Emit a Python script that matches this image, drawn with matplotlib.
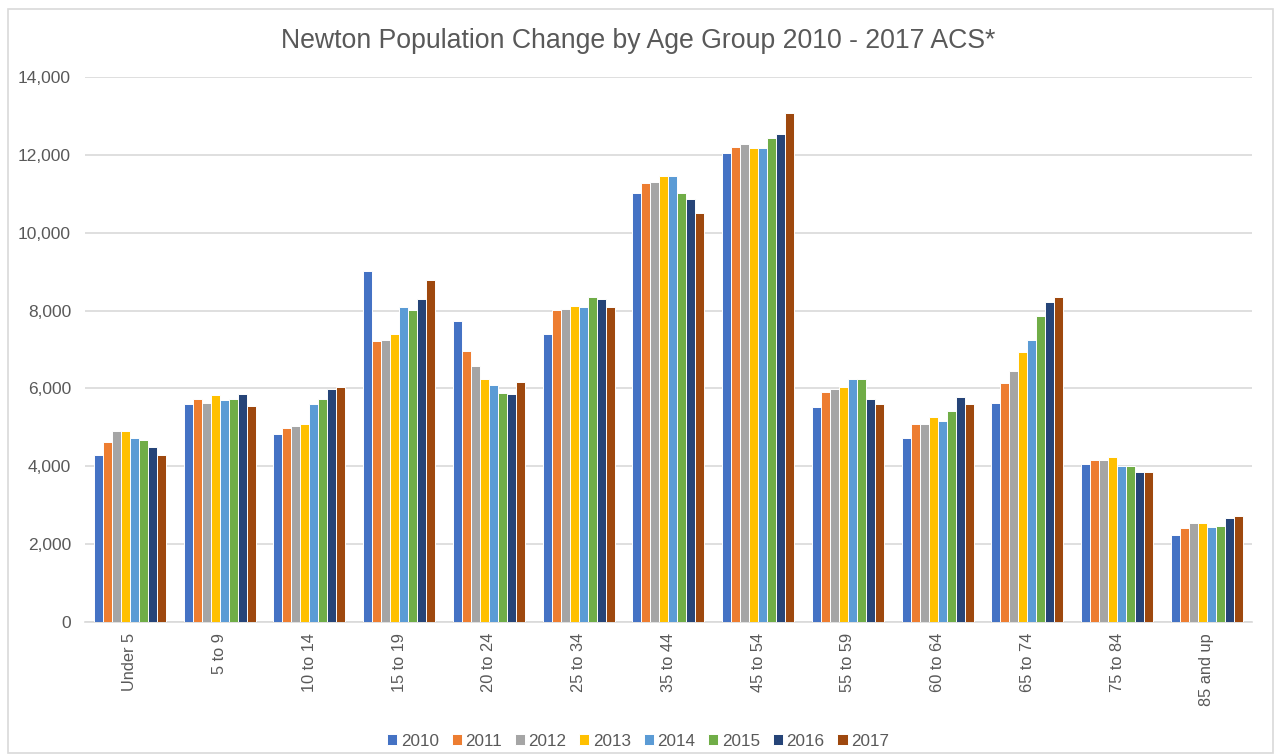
import matplotlib
matplotlib.use("Agg")
import matplotlib.pyplot as plt
import matplotlib.patches as patches
from matplotlib.ticker import FuncFormatter
import numpy as np

plt.rcParams['font.family'] = ['Liberation Sans', 'DejaVu Sans']

age_groups = ["Under 5", "5 to 9", "10 to 14", "15 to 19", "20 to 24", "25 to 34",
              "35 to 44", "45 to 54", "55 to 59", "60 to 64", "65 to 74", "75 to 84",
              "85 and up"]
years = ["2010", "2011", "2012", "2013", "2014", "2015", "2016", "2017"]

pop_2010 = [4280, 5590, 4830, 9020, 7720, 7400, 11010, 12060, 5510, 4730, 5620, 4070, 2230]
pop_2011 = [4615, 5730, 4975, 7220, 6960, 8010, 11270, 12200, 5920, 5085, 6130, 4170, 2405]
pop_2012 = [4900, 5625, 5045, 7250, 6570, 8050, 11300, 12280, 5990, 5085, 6455, 4170, 2550]
pop_2013 = [4895, 5840, 5085, 7400, 6240, 8115, 11450, 12175, 6030, 5265, 6925, 4240, 2550]
pop_2014 = [4720, 5705, 5590, 8085, 6095, 8085, 11450, 12175, 6240, 5155, 7250, 4000, 2440]
pop_2015 = [4685, 5730, 5730, 8015, 5880, 8340, 11010, 12425, 6240, 5410, 7870, 4000, 2475]
pop_2016 = [4505, 5850, 5985, 8300, 5850, 8300, 10865, 12535, 5730, 5770, 8230, 3855, 2665]
pop_2017 = [4280, 5550, 6030, 8775, 6165, 8085, 10505, 13075, 5590, 5590, 8350, 3855, 2730]

series = [pop_2010, pop_2011, pop_2012, pop_2013, pop_2014, pop_2015, pop_2016, pop_2017]
colors = ["#4472C4", "#ED7D31", "#A5A5A5", "#FFC000", "#5B9BD5", "#70AD47", "#264478", "#9E480E"]

text_color = "#595959"
grid_color = "#D9D9D9"

fig = plt.figure(figsize=(12.76, 7.55), dpi=100)
ax = fig.add_axes([0.0666, 0.1762, 0.9144, 0.7218])

x = np.arange(len(age_groups))
bar_w = 0.1
for i, (vals, col, yr) in enumerate(zip(series, colors, years)):
    offset = (i - (len(series) - 1) / 2) * bar_w
    ax.bar(x + offset, vals, width=bar_w, color=col, edgecolor="white",
           linewidth=0.7, label=yr, zorder=3)

ax.set_xlim(-0.5, len(age_groups) - 0.5)
ax.set_ylim(0, 14000)
ax.set_yticks(np.arange(0, 14001, 2000))
ax.yaxis.set_major_formatter(FuncFormatter(lambda v, p: f"{int(v):,}"))
ax.set_xticks(x)
ax.set_xticklabels(age_groups, rotation=90)

ax.grid(axis="y", color=grid_color, linewidth=1.2, zorder=0)
for side in ["top", "right", "left"]:
    ax.spines[side].set_visible(False)
ax.spines["bottom"].set_color(grid_color)
ax.spines["bottom"].set_linewidth(1.2)
ax.tick_params(axis="y", length=0, labelsize=12.5, colors=text_color, pad=10)
ax.tick_params(axis="x", length=0, labelsize=11.8, colors=text_color, pad=8)

fig.text(0.5, 0.946, "Newton Population Change by Age Group 2010 - 2017 ACS*",
         ha="center", va="center", fontsize=19.2, color=text_color)

fig.legend(loc="center", bbox_to_anchor=(0.5, 0.018), ncol=8, frameon=False,
           fontsize=12.3, labelcolor=text_color, handlelength=0.6, handleheight=0.6,
           handletextpad=0.2, columnspacing=0.75)

# light frame around the whole chart
fig.patches.append(patches.Rectangle((0.006, 0.002), 0.992, 0.986, transform=fig.transFigure,
                                     fill=False, edgecolor=grid_color, linewidth=1.2))

fig.savefig("out.png", dpi=100, facecolor="white")
